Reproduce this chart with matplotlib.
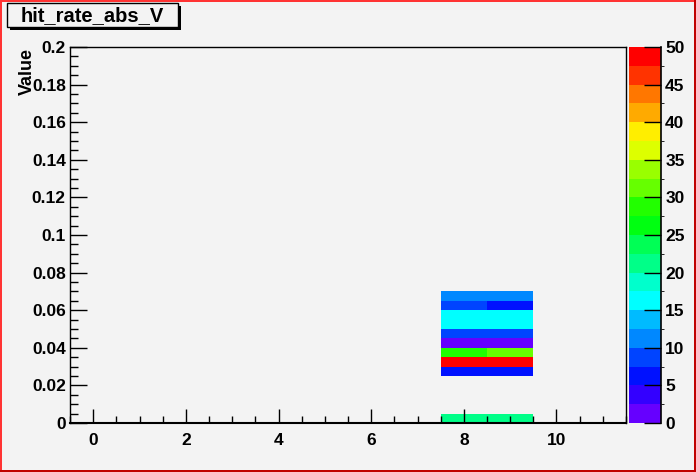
import numpy as np
import matplotlib
matplotlib.use("Agg")
import matplotlib.pyplot as plt
from matplotlib.colors import ListedColormap, BoundaryNorm
from matplotlib.patches import Rectangle
from matplotlib.ticker import MultipleLocator, FuncFormatter

# histogram binning (x: channel, y: value)
x_edges = np.arange(-0.5, 12.0, 1.0)
y_edges = np.linspace(0.0, 0.2, 41)

# filled cells: lower edge of y bin, counts for x=8 and x=9
row_low = [0.0, 0.025, 0.03, 0.035, 0.04, 0.045, 0.05, 0.055, 0.06, 0.065]
counts_x8 = [21, 6, 49, 29, 1, 9, 16, 16, 9, 11]
counts_x9 = [21, 6, 49, 31, 1, 9, 16, 16, 6, 11]
x_cols = [8, 9]

# ROOT-like palette, 20 contours from 0 to 50
palette = ["#6600ff", "#3300ff", "#0011ff", "#0044ff", "#0088ff",
           "#00bbff", "#00ffff", "#00ffcc", "#00ff88", "#00ff55",
           "#00ff11", "#22ff00", "#66ff00", "#99ff00", "#ddff00",
           "#ffee00", "#ffaa00", "#ff7700", "#ff3300", "#ff0000"]
levels = np.linspace(0, 50, 21)

bg = "#f3f3f3"
font = "Liberation Sans"
tick_fs = 12.5

grid = np.zeros((len(y_edges) - 1, len(x_edges) - 1))
for xc, counts in zip(x_cols, [counts_x8, counts_x9]):
    ix = int(np.searchsorted(x_edges, xc) - 1)
    for y0, c in zip(row_low, counts):
        iy = int(round(y0 / 0.005))
        grid[iy, ix] = c
grid = np.ma.masked_equal(grid, 0)

cmap = ListedColormap(palette)
norm = BoundaryNorm(levels, cmap.N)

fig = plt.figure(figsize=(6.96, 4.72), dpi=100, facecolor=bg)
W, H = 696.0, 472.0
ax = fig.add_axes([70 / W, 1 - 423 / H, 556 / W, 376 / H], facecolor=bg)
mesh = ax.pcolormesh(x_edges, y_edges, grid, cmap=cmap, norm=norm)
ax.set_xlim(-0.5, 11.5)
ax.set_ylim(0, 0.2)

ax.xaxis.set_major_locator(MultipleLocator(2))
ax.xaxis.set_minor_locator(MultipleLocator(0.5))
ax.yaxis.set_major_locator(MultipleLocator(0.02))
ax.yaxis.set_minor_locator(MultipleLocator(0.005))
ax.yaxis.set_major_formatter(FuncFormatter(lambda v, p: f"{v:g}"))
ax.tick_params(axis="x", which="major", direction="in", length=10, width=1, pad=7)
ax.tick_params(axis="x", which="minor", direction="in", length=5, width=1)
ax.tick_params(axis="y", which="major", direction="in", length=12, width=1, pad=3)
ax.tick_params(axis="y", which="minor", direction="in", length=6, width=1)
for lab in ax.get_xticklabels() + ax.get_yticklabels():
    lab.set_fontfamily(font)
    lab.set_fontweight("bold")
    lab.set_fontsize(tick_fs)
for sp in ax.spines.values():
    sp.set_linewidth(1.0)
ax.spines["bottom"].set_linewidth(1.5)

ax.set_ylabel("Value", fontfamily=font, fontweight="bold", fontsize=13,
              loc="top")
ax.yaxis.set_label_coords(-0.061, 0.998)

# colour scale
cax = fig.add_axes([629 / W, 1 - 423 / H, 32 / W, 376 / H])
cb = fig.colorbar(mesh, cax=cax, ticks=np.arange(0, 51, 5))
cb.outline.set_visible(False)
cax.tick_params(direction="in", length=12, width=1, pad=3)
cax.plot([1, 1], [0, 1], color="black", lw=1.2, transform=cax.transAxes, clip_on=False)
for lab in cax.get_yticklabels():
    lab.set_fontfamily(font)
    lab.set_fontweight("bold")
    lab.set_fontsize(tick_fs)

# title box with shadow
fig.add_artist(Rectangle((10 / W, 1 - 30 / H), 171 / W, 24 / H,
                         transform=fig.transFigure, facecolor="black", edgecolor="none"))
fig.add_artist(Rectangle((7 / W, 1 - 27 / H), 171 / W, 24 / H,
                         transform=fig.transFigure, facecolor=bg, edgecolor="black", lw=1))
fig.text(92 / W, 1 - 15.5 / H, "hit_rate_abs_V", ha="center", va="center",
         fontfamily=font, fontweight="bold", fontsize=14.5)

# canvas border
light, dark = "#ff3333", "#c00000"
fig.add_artist(Rectangle((0, 1 - 2 / H), 1, 2 / H, transform=fig.transFigure,
                         facecolor=light, edgecolor="none"))
fig.add_artist(Rectangle((0, 0), 2 / W, 1, transform=fig.transFigure,
                         facecolor=light, edgecolor="none"))
fig.add_artist(Rectangle((1 - 2 / W, 0), 2 / W, 1, transform=fig.transFigure,
                         facecolor=dark, edgecolor="none"))
fig.add_artist(Rectangle((0, 0), 1, 2 / H, transform=fig.transFigure,
                         facecolor=dark, edgecolor="none"))

fig.savefig("out.png", dpi=100, facecolor=bg)
